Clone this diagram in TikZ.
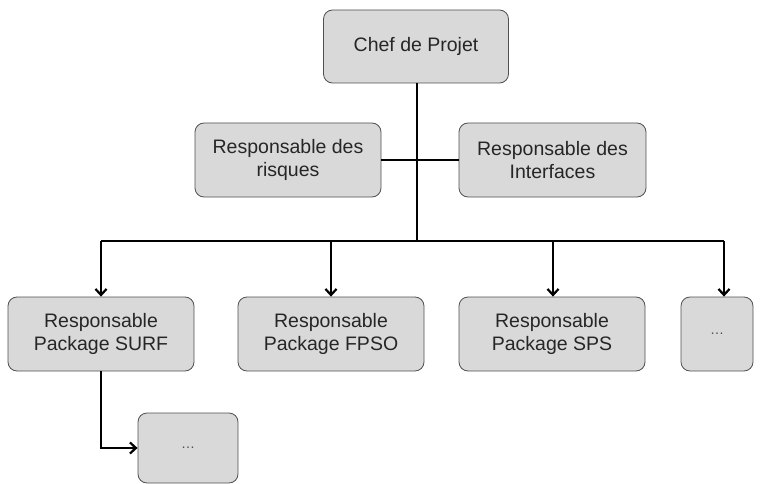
\documentclass[tikz,border=0pt]{standalone}
\usepackage{fontspec}
\setmainfont{Liberation Sans}
\usetikzlibrary{arrows.meta}
\definecolor{boxfill}{HTML}{D9D9D9}
\definecolor{boxline}{HTML}{505050}
\begin{document}
\begin{tikzpicture}[x=1pt,y=-1pt,
  box/.style={draw=boxline, line width=0.8pt, fill=boxfill, rounded corners=9pt,
    inner sep=0pt, minimum height=74pt, align=center,
    font=\fontsize{19.5}{23}\selectfont, text=black!85},
  conn/.style={line width=2.6pt, black},
  arr/.style={conn, -{Straight Barb[length=6pt,width=11pt,line width=2.2pt]}},
  dotsfont/.style={font=\fontsize{14}{16}\selectfont, text=black!70}]
\useasboundingbox (0,0) rectangle (763,484);
\node[box, minimum width=185pt, minimum height=73pt] (chef) at (416,46.5) {Chef de Projet};
\node[box, minimum width=186pt] (risq) at (288,160) {Responsable des\\risques};
\node[box, minimum width=187pt] (intf) at (552.5,160) {Responsable des\\Interfaces};
\node[box, minimum width=186pt] (surf) at (101,334) {Responsable\\Package SURF};
\node[box, minimum width=186pt] (fpso) at (331,334) {Responsable\\Package FPSO};
\node[box, minimum width=186pt] (sps) at (552,334) {Responsable\\Package SPS};
\node[box, dotsfont, minimum width=72pt] (dotsA) at (717,334) {\ldots};
\node[box, dotsfont, minimum width=100pt, minimum height=70pt] (dotsB) at (188,448) {\ldots};
\coordinate (bar) at (417,241);
\coordinate (barL) at (101,241);
\coordinate (barR) at (724,241);
\draw[conn] (chef.south -| bar) -- (bar);
\draw[conn] (risq.east) -- (intf.west);
\draw[conn] (barL) -- (barR);
\draw[arr] (barL) -- (surf.north);
\draw[arr] (bar -| fpso) -- (fpso.north);
\draw[arr] (bar -| sps.north) ++(1,0) -- ([xshift=1pt]sps.north);
\draw[arr] (barR) -- (barR |- dotsA.north);
\draw[arr] (surf.south) |- (dotsB.west);
\end{tikzpicture}
\end{document}
